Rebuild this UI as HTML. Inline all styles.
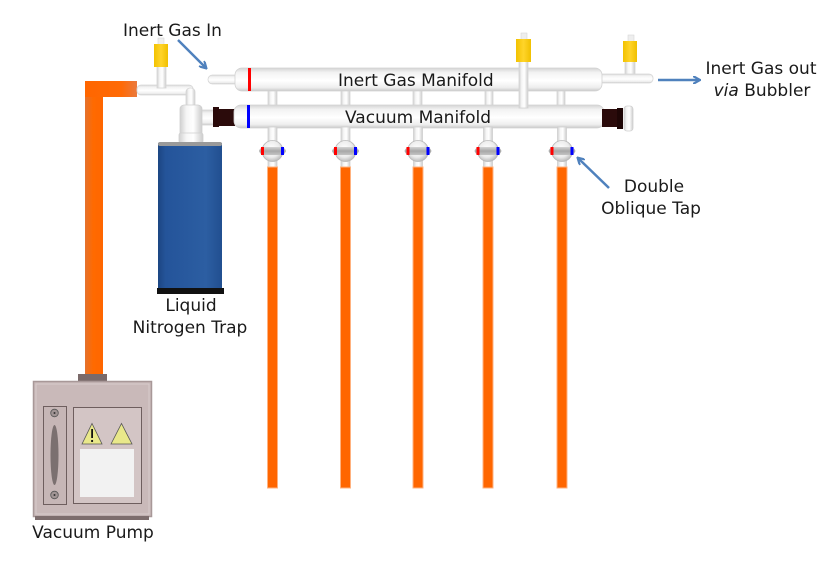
<!DOCTYPE html>
<html><head><meta charset="utf-8"><style>
html,body{margin:0;padding:0;background:#fff;}
svg{display:block;}
text{font-family:"DejaVu Sans","Liberation Sans",sans-serif;font-size:17px;fill:#1a1a1a;}
</style></head><body>
<svg width="839" height="587" viewBox="0 0 839 587" xmlns="http://www.w3.org/2000/svg">
<defs>
<linearGradient id="gh" x1="0" y1="0" x2="0" y2="1">
<stop offset="0" stop-color="#d4d4d4"/><stop offset="0.2" stop-color="#f3f3f3"/><stop offset="0.55" stop-color="#ffffff"/><stop offset="0.85" stop-color="#eeeeee"/><stop offset="1" stop-color="#c8c8c8"/>
</linearGradient>
<linearGradient id="gv" x1="0" y1="0" x2="1" y2="0">
<stop offset="0" stop-color="#d0d0d0"/><stop offset="0.3" stop-color="#f6f6f6"/><stop offset="0.6" stop-color="#ffffff"/><stop offset="1" stop-color="#cccccc"/>
</linearGradient>
<linearGradient id="gy" x1="0" y1="0" x2="1" y2="0">
<stop offset="0" stop-color="#f2c200"/><stop offset="0.5" stop-color="#ffd42a"/><stop offset="1" stop-color="#f0c000"/>
</linearGradient>
<linearGradient id="gb" x1="0" y1="0" x2="1" y2="0">
<stop offset="0" stop-color="#1c4682"/><stop offset="0.12" stop-color="#24549a"/><stop offset="0.75" stop-color="#2c5ea2"/><stop offset="1" stop-color="#214f90"/>
</linearGradient>
<linearGradient id="go" x1="0" y1="0" x2="1" y2="0">
<stop offset="0" stop-color="#e4722f"/><stop offset="0.45" stop-color="#ff6a00"/><stop offset="1" stop-color="#ff6600"/>
</linearGradient>
<linearGradient id="goh" x1="0" y1="0" x2="1" y2="0">
<stop offset="0" stop-color="#ff6600"/><stop offset="0.7" stop-color="#ff6a05"/><stop offset="1" stop-color="#ea7a3e"/>
</linearGradient>
<linearGradient id="gp" x1="0" y1="0" x2="0" y2="1">
<stop offset="0" stop-color="#d4d4d4"/><stop offset="0.5" stop-color="#a8a8a8"/><stop offset="1" stop-color="#c4c4c4"/>
</linearGradient>
<radialGradient id="gball" cx="0.45" cy="0.4" r="0.6">
<stop offset="0" stop-color="#ffffff"/><stop offset="0.65" stop-color="#ececec"/><stop offset="1" stop-color="#bdbdbd"/>
</radialGradient>
<marker id="ah" markerWidth="8" markerHeight="8" refX="5" refY="4" orient="auto" markerUnits="userSpaceOnUse">
<path d="M0,0 L7,4 L0,8" fill="none" stroke="#4f81bd" stroke-width="2.2"/>
</marker>
</defs>

<!-- orange pipe to pump -->
<rect x="85" y="81" width="18" height="294" fill="url(#go)"/>
<rect x="85" y="81" width="52" height="16" fill="url(#goh)"/>

<!-- left glass piping -->
<rect x="137" y="85" width="56" height="10" rx="4" fill="url(#gh)" stroke="#d6d6d6" stroke-width="0.8"/>
<rect x="186" y="88" width="9" height="22" rx="4" fill="url(#gv)" stroke="#d6d6d6" stroke-width="0.8"/>
<rect x="198" y="110" width="17" height="15" fill="url(#gh)" stroke="#d6d6d6" stroke-width="0.8"/>
<rect x="180" y="105" width="22" height="32" rx="4" fill="url(#gv)" stroke="#d0d0d0" stroke-width="0.8"/>
<rect x="179" y="133" width="24" height="10" rx="2" fill="url(#gv)" stroke="#d0d0d0" stroke-width="0.8"/>
<rect x="157" y="64" width="9" height="24" fill="url(#gv)" stroke="#d6d6d6" stroke-width="0.8"/>
<rect x="158" y="38" width="6" height="7" fill="#eeeeee" stroke="#d8d8d8" stroke-width="0.6"/>
<rect x="154" y="44" width="14" height="23" fill="url(#gy)"/>

<!-- left dark connector -->
<rect x="213" y="107" width="6" height="20" fill="#2a0a0a"/>
<rect x="218" y="109" width="17" height="17" fill="#2b0b0b"/>

<!-- trap -->
<rect x="158" y="143" width="64" height="146" fill="url(#gb)"/>
<rect x="158" y="142" width="64" height="4" rx="2" fill="#9a9a9a"/>
<rect x="157" y="288" width="67" height="6" fill="#111"/>

<!-- inert inlet tube -->
<rect x="208" y="75" width="34" height="9" rx="4.5" fill="url(#gh)" stroke="#d6d6d6" stroke-width="0.8"/>

<!-- stubs between manifolds -->
<g fill="url(#gv)" stroke="#d4d4d4" stroke-width="0.8">
<rect x="268" y="88" width="9" height="20"/>
<rect x="341" y="88" width="9" height="20"/>
<rect x="413" y="88" width="9" height="20"/>
<rect x="485" y="88" width="8" height="20"/>
<rect x="557" y="88" width="8" height="20"/>
</g>

<!-- right side inert outlet -->
<rect x="625" y="58" width="10" height="20" fill="url(#gv)" stroke="#d6d6d6" stroke-width="0.8"/>
<rect x="596" y="74" width="57" height="9" rx="4" fill="url(#gh)" stroke="#d6d6d6" stroke-width="0.8"/>
<rect x="628" y="35" width="6" height="7" fill="#eeeeee" stroke="#d8d8d8" stroke-width="0.6"/>
<rect x="623" y="41" width="14" height="21" fill="url(#gy)"/>

<!-- manifolds -->
<rect x="235" y="68" width="367" height="23" rx="7" fill="url(#gh)" stroke="#d2d2d2" stroke-width="0.8"/>
<rect x="234" y="105" width="370" height="23" rx="7" fill="url(#gh)" stroke="#d2d2d2" stroke-width="0.8"/>
<rect x="248" y="68" width="3" height="23" fill="#ff0000"/>
<rect x="247" y="105" width="3" height="23" fill="#0000ff"/>

<!-- middle yellow tube -->
<rect x="519" y="60" width="9" height="48" fill="url(#gv)" stroke="#d4d4d4" stroke-width="0.8"/>
<rect x="521" y="33" width="6" height="7" fill="#eeeeee" stroke="#d8d8d8" stroke-width="0.6"/>
<rect x="516" y="39" width="15" height="23" fill="url(#gy)"/>

<!-- right vacuum connector + flange -->
<rect x="602" y="109" width="16" height="18" fill="#2b0b0b"/>
<rect x="617" y="108" width="6" height="21" fill="#1e0606"/>
<rect x="624" y="106" width="9" height="25" rx="3" fill="url(#gv)" stroke="#d0d0d0" stroke-width="0.8"/>

<!-- taps -->
<g>
<g transform="translate(272.5,0)">
<rect x="-4.5" y="127" width="9" height="40" fill="url(#gv)" stroke="#cfcfcf" stroke-width="0.8"/>
<circle cx="0" cy="151" r="10.5" fill="url(#gball)" stroke="#b8b8b8" stroke-width="0.8"/>
<path d="M-13.5,151 Q-12,147 -9,147 L9,147 Q12,147 13.5,151 Q12,155 9,155 L-9,155 Q-12,155 -13.5,151Z" fill="url(#gp)"/>
<rect x="-11.5" y="147" width="3" height="8" fill="#ff0000"/>
<rect x="8.5" y="147" width="3" height="8" fill="#0000ff"/>
</g>
<g transform="translate(345.5,0)">
<rect x="-4.5" y="127" width="9" height="40" fill="url(#gv)" stroke="#cfcfcf" stroke-width="0.8"/>
<circle cx="0" cy="151" r="10.5" fill="url(#gball)" stroke="#b8b8b8" stroke-width="0.8"/>
<path d="M-13.5,151 Q-12,147 -9,147 L9,147 Q12,147 13.5,151 Q12,155 9,155 L-9,155 Q-12,155 -13.5,151Z" fill="url(#gp)"/>
<rect x="-11.5" y="147" width="3" height="8" fill="#ff0000"/>
<rect x="8.5" y="147" width="3" height="8" fill="#0000ff"/>
</g>
<g transform="translate(418,0)">
<rect x="-4.5" y="127" width="9" height="40" fill="url(#gv)" stroke="#cfcfcf" stroke-width="0.8"/>
<circle cx="0" cy="151" r="10.5" fill="url(#gball)" stroke="#b8b8b8" stroke-width="0.8"/>
<path d="M-13.5,151 Q-12,147 -9,147 L9,147 Q12,147 13.5,151 Q12,155 9,155 L-9,155 Q-12,155 -13.5,151Z" fill="url(#gp)"/>
<rect x="-11.5" y="147" width="3" height="8" fill="#ff0000"/>
<rect x="8.5" y="147" width="3" height="8" fill="#0000ff"/>
</g>
<g transform="translate(488,0)">
<rect x="-4.5" y="127" width="9" height="40" fill="url(#gv)" stroke="#cfcfcf" stroke-width="0.8"/>
<circle cx="0" cy="151" r="10.5" fill="url(#gball)" stroke="#b8b8b8" stroke-width="0.8"/>
<path d="M-13.5,151 Q-12,147 -9,147 L9,147 Q12,147 13.5,151 Q12,155 9,155 L-9,155 Q-12,155 -13.5,151Z" fill="url(#gp)"/>
<rect x="-11.5" y="147" width="3" height="8" fill="#ff0000"/>
<rect x="8.5" y="147" width="3" height="8" fill="#0000ff"/>
</g>
<g transform="translate(562,0)">
<rect x="-4.5" y="127" width="9" height="40" fill="url(#gv)" stroke="#cfcfcf" stroke-width="0.8"/>
<circle cx="0" cy="151" r="10.5" fill="url(#gball)" stroke="#b8b8b8" stroke-width="0.8"/>
<path d="M-13.5,151 Q-12,147 -9,147 L9,147 Q12,147 13.5,151 Q12,155 9,155 L-9,155 Q-12,155 -13.5,151Z" fill="url(#gp)"/>
<rect x="-11.5" y="147" width="3" height="8" fill="#ff0000"/>
<rect x="8.5" y="147" width="3" height="8" fill="#0000ff"/>
</g>
</g>

<!-- orange tubing -->
<g fill="#ff6600" stroke="#ffb27f" stroke-width="1">
<rect x="267.5" y="167" width="10" height="321"/>
<rect x="340.5" y="167" width="10" height="321"/>
<rect x="413" y="167" width="10" height="321"/>
<rect x="483" y="167" width="10" height="321"/>
<rect x="557" y="167" width="10" height="321"/>
</g>

<!-- vacuum pump -->
<rect x="78" y="374" width="29" height="8" fill="#7a6a6a"/>
<rect x="33.5" y="381.5" width="118" height="135" fill="#c9b9b9" stroke="#a89898" stroke-width="1.5"/>
<rect x="36" y="384" width="113" height="130" fill="none" stroke="#d8cccc" stroke-width="1"/>
<rect x="35" y="516" width="114" height="4" fill="#7d6d6d"/>
<rect x="43.5" y="406.5" width="23" height="98" fill="#c6b6b6" stroke="#6e5e5e" stroke-width="1"/>
<circle cx="54.5" cy="413" r="3.8" fill="#a09494" stroke="#555" stroke-width="0.8"/>
<circle cx="54.5" cy="413" r="1" fill="#333"/>
<circle cx="54.5" cy="495" r="3.8" fill="#a09494" stroke="#555" stroke-width="0.8"/>
<circle cx="54.5" cy="495" r="1" fill="#333"/>
<ellipse cx="54.5" cy="455" rx="4" ry="30" fill="#7b7070"/>
<rect x="73.5" y="407.5" width="68" height="96" fill="#d3c5c5" stroke="#6e5e5e" stroke-width="1"/>
<rect x="80" y="449" width="54" height="48" fill="#f2f2f2"/>
<path d="M82,444 L92,423.5 L102,444Z" fill="#e9e88a" stroke="#555" stroke-width="0.8"/>
<rect x="91.2" y="429" width="1.8" height="9" fill="#111"/>
<circle cx="92.1" cy="441" r="1.1" fill="#111"/>
<path d="M111,444 L121.5,423.5 L132,444Z" fill="#e9e88a" stroke="#555" stroke-width="0.8"/>

<!-- arrows -->
<g stroke="#4f81bd" stroke-width="2.5" fill="none">
<line x1="178" y1="40" x2="205" y2="67" marker-end="url(#ah)"/>
<line x1="658" y1="80" x2="698" y2="80" marker-end="url(#ah)"/>
<line x1="609" y1="188" x2="579" y2="159" marker-end="url(#ah)"/>
</g>

<!-- labels -->
<text x="123" y="36">Inert Gas In</text>
<text x="338" y="86">Inert Gas Manifold</text>
<text x="345" y="123">Vacuum Manifold</text>
<text x="761" y="74" text-anchor="middle">Inert Gas out</text>
<text x="762" y="96" text-anchor="middle"><tspan font-style="italic">via</tspan> Bubbler</text>
<text x="654" y="192" text-anchor="middle">Double</text>
<text x="651" y="214" text-anchor="middle">Oblique Tap</text>
<text x="191" y="311" text-anchor="middle">Liquid</text>
<text x="190" y="333" text-anchor="middle">Nitrogen Trap</text>
<text x="93" y="538" text-anchor="middle">Vacuum Pump</text>
</svg>
</body></html>
